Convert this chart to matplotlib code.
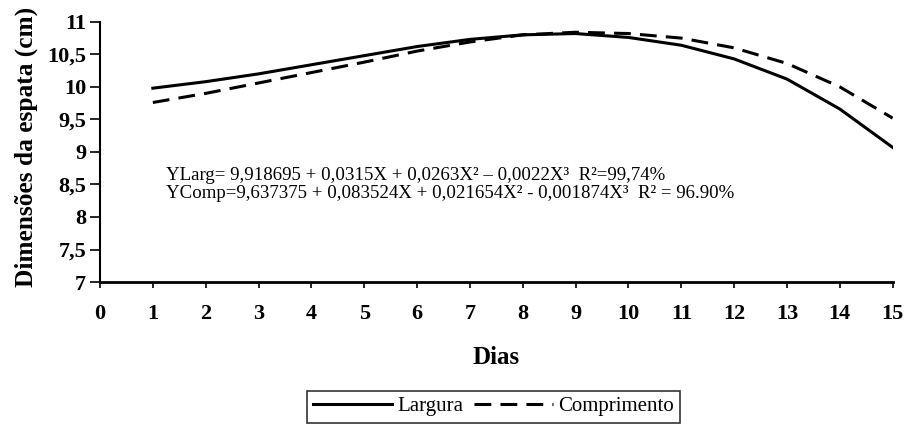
import matplotlib
matplotlib.use("Agg")
import matplotlib.pyplot as plt

dias = [1, 2, 3, 4, 5, 6, 7, 8, 9, 10, 11, 12, 13, 14, 15]
largura = [9.98, 10.08, 10.20, 10.34, 10.48, 10.62, 10.73, 10.80, 10.82, 10.76, 10.64, 10.43, 10.12, 9.66, 9.07]
comprimento = [9.76, 9.90, 10.06, 10.22, 10.38, 10.55, 10.69, 10.80, 10.84, 10.82, 10.75, 10.60, 10.36, 10.00, 9.52]
yticks = [7, 7.5, 8, 8.5, 9, 9.5, 10, 10.5, 11]
ytick_labels = ["7", "7,5", "8", "8,5", "9", "9,5", "10", "10,5", "11"]
xticks = list(range(0, 16))
eq_larg = "YLarg= 9,918695 + 0,0315X + 0,0263X² – 0,0022X³  R²=99,74%"
eq_comp = "YComp=9,637375 + 0,083524X + 0,021654X² - 0,001874X³  R² = 96.90%"

plt.rcParams['font.family'] = ['Liberation Serif', 'DejaVu Serif']

fig = plt.figure(figsize=(9.09, 4.28), dpi=100)
ax = fig.add_axes([0.110, 0.341, 0.872, 0.608])

ax.plot(dias, largura, color='black', lw=2.2, label='Largura')
ax.plot(dias, comprimento, color='black', lw=2.2, ls=(0, (5.5, 3)), label='Comprimento')

ax.set_xlim(0, 15)
ax.set_ylim(7, 11)
ax.set_yticks(yticks)
ax.set_yticklabels(ytick_labels)
ax.set_xticks(xticks)
ax.spines['top'].set_visible(False)
ax.spines['right'].set_visible(False)
ax.spines['left'].set_linewidth(1.5)
ax.spines['bottom'].set_linewidth(2.0)
ax.tick_params(axis='both', direction='out', width=1.2, labelsize=16)
ax.tick_params(axis='y', length=7, pad=3)
ax.tick_params(axis='x', length=4, pad=11.5)
for lab in ax.get_xticklabels() + ax.get_yticklabels():
    lab.set_fontweight('bold')

ax.set_ylabel("Dimensões da espata (cm)", fontsize=18.3, fontweight='bold')
ax.yaxis.set_label_coords(-0.078, 0.52)
ax.set_xlabel("Dias", fontsize=18, fontweight='bold', labelpad=16)

ax.text(0.083, 0.41, eq_larg, transform=ax.transAxes, fontsize=13.6, ha='left', va='center')
ax.text(0.083, 0.34, eq_comp, transform=ax.transAxes, fontsize=13.6, ha='left', va='center')

leg = fig.legend(loc='center', bbox_to_anchor=(0.543, 0.05), ncol=2, frameon=True,
                 fancybox=False, edgecolor='black', fontsize=15, handlelength=3.8,
                 columnspacing=0.5, handletextpad=0.25, borderpad=0.3)
leg.get_frame().set_linewidth(1.2)

fig.savefig("out.png", dpi=100)
